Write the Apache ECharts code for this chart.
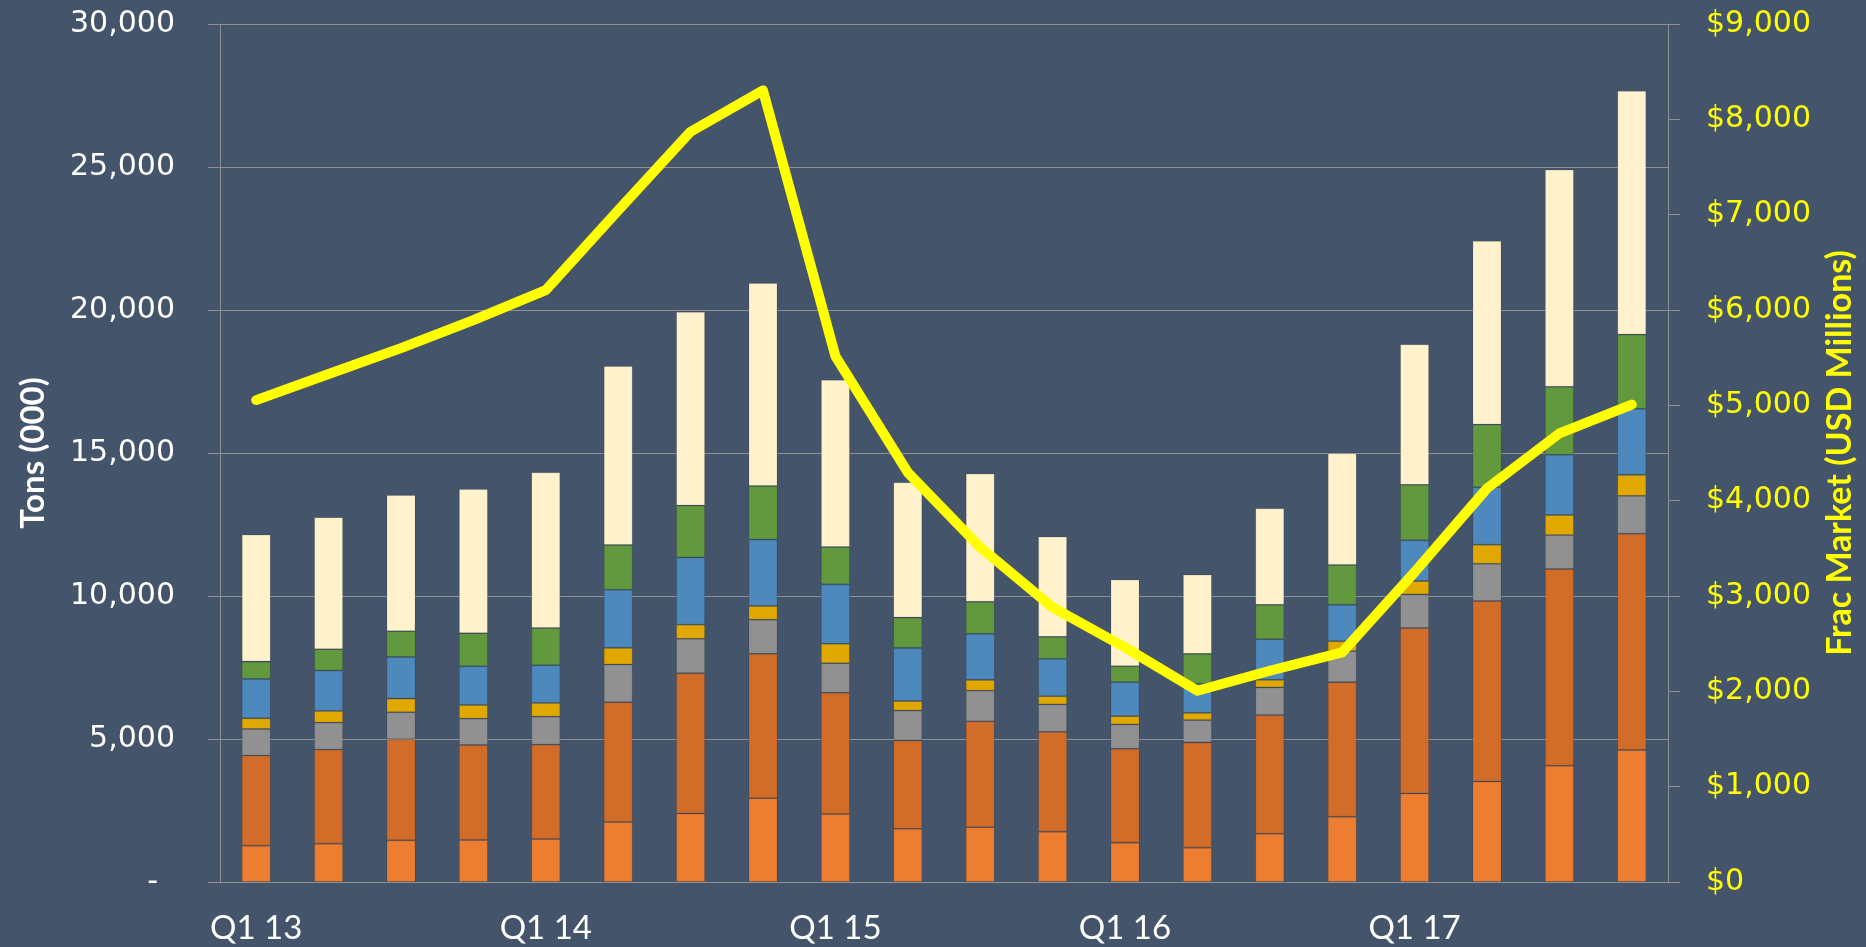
<!DOCTYPE html>
<html>
<head>
<meta charset="utf-8">
<title>Frac market</title>
<script src="https://cdn.jsdelivr.net/npm/echarts@6/dist/echarts.min.js"></script>
<style>
  html, body {
    margin: 0;
    padding: 0;
    background: #44546A;
  }
  #chart {
    width: 1866px;
    height: 947px;
  }
</style>
</head>
<body>
<div id="chart"></div>
<script>
// 季度
const quarters = [
  'Q1 13', 'Q2 13', 'Q3 13', 'Q4 13',
  'Q1 14', 'Q2 14', 'Q3 14', 'Q4 14',
  'Q1 15', 'Q2 15', 'Q3 15', 'Q4 15',
  'Q1 16', 'Q2 16', 'Q3 16', 'Q4 16',
  'Q1 17', 'Q2 17', 'Q3 17', 'Q4 17'
]

// 堆叠柱（自下而上），单位 Tons (000)
const seg1 = [1271, 1341, 1458, 1469, 1504, 2100, 2395, 2932, 2380, 1858, 1916, 1759, 1374, 1200, 1689, 2283, 3095, 3513, 4065, 4617]
const seg2 = [3148, 3288, 3532, 3323, 3300, 4186, 4906, 5051, 4238, 3091, 3701, 3494, 3285, 3680, 4146, 4705, 5789, 6308, 6876, 7562]
const seg3 = [933, 944, 945, 921, 979, 1318, 1204, 1190, 1031, 1045, 1074, 955, 850, 780, 967, 1083, 1171, 1304, 1188, 1322]
const seg4 = [373, 409, 478, 478, 478, 583, 494, 479, 682, 334, 377, 291, 291, 257, 268, 350, 468, 670, 703, 736]
const seg5 = [1376, 1410, 1458, 1353, 1318, 2031, 2351, 2322, 2076, 1858, 1611, 1304, 1188, 1013, 1421, 1269, 1422, 2007, 2108, 2309]
const seg6 = [606, 747, 897, 1154, 1306, 1565, 1814, 1872, 1306, 1059, 1118, 769, 559, 1048, 1199, 1398, 1941, 2192, 2376, 2593]
const seg7 = [4443, 4617, 4766, 5046, 5440, 6260, 6778, 7098, 5849, 4732, 4485, 3506, 3028, 2772, 3378, 3902, 4919, 6424, 7595, 8525]

// 折线：Frac Market (USD Millions)
const fracMarket = [5055, 5328, 5600, 5893, 6208, 7046, 7870, 8303, 5517, 4296, 3512, 2881, 2461, 2006, 2216, 2409, 3250, 4129, 4706, 5008]

const segColors = ['#ED7D31', '#D26D29', '#919191', '#E0A800', '#4E89BD', '#62993E', '#FFF2CC']
const segData = [seg1, seg2, seg3, seg4, seg5, seg6, seg7]

const gridColor = '#8e9196'
const numFont = '"DejaVu Sans", Verdana, sans-serif'
const textFont = 'Lato, "Open Sans", sans-serif'

const barSeries = segData.map((d, i) => ({
  name: 'Segment ' + (i + 1),
  type: 'bar',
  stack: 'tons',
  barWidth: 29,
  data: d,
  itemStyle: {
    color: segColors[i],
    borderColor: 'rgba(0,0,0,0.12)',
    borderWidth: 1
  }
}))

const chart = echarts.init(document.getElementById('chart'))

chart.setOption({
  backgroundColor: '#44546A',
  animation: false,
  grid: {
    left: 220,
    right: 198,
    top: 24,
    bottom: 65
  },
  xAxis: {
    type: 'category',
    data: quarters,
    boundaryGap: true,
    axisLine: { lineStyle: { color: gridColor, width: 1 } },
    axisTick: {
      interval: 3,
      length: 12,
      lineStyle: { color: gridColor }
    },
    axisLabel: {
      interval: 3,
      margin: 30,
      color: '#ffffff',
      fontFamily: textFont,
      fontSize: 33
    }
  },
  yAxis: [
    {
      type: 'value',
      min: 0,
      max: 30000,
      interval: 5000,
      name: 'Tons (000)',
      nameLocation: 'middle',
      nameGap: 170,
      nameRotate: 90,
      nameTextStyle: {
        color: '#ffffff',
        fontFamily: textFont,
        fontWeight: 'bold',
        fontSize: 33
      },
      axisLine: { show: true, lineStyle: { color: gridColor } },
      axisTick: { show: true, length: 12, lineStyle: { color: gridColor } },
      splitLine: { lineStyle: { color: gridColor, width: 1 } },
      axisLabel: {
        margin: 45,
        color: '#ffffff',
        fontFamily: numFont,
        fontSize: 30,
        formatter: v => v === 0 ? '{dash|-}' : v.toLocaleString('en-US'),
        rich: {
          dash: { color: '#ffffff', fontFamily: numFont, fontSize: 30, padding: [0, 17, 0, 0] }
        }
      }
    },
    {
      type: 'value',
      position: 'right',
      min: 0,
      max: 9000,
      interval: 1000,
      name: 'Frac Market (USD Millions)',
      nameLocation: 'middle',
      nameGap: 155,
      nameRotate: 90,
      nameTextStyle: {
        color: '#FFFF00',
        fontFamily: textFont,
        fontWeight: 'bold',
        fontSize: 34
      },
      axisLine: { show: true, lineStyle: { color: gridColor } },
      axisTick: { show: true, length: 12, lineStyle: { color: gridColor } },
      splitLine: { show: false },
      axisLabel: {
        margin: 38,
        color: '#FFFF00',
        fontFamily: numFont,
        fontSize: 30,
        formatter: v => '$' + v.toLocaleString('en-US')
      }
    }
  ],
  series: [
    ...barSeries,
    {
      name: 'Frac Market',
      type: 'line',
      yAxisIndex: 1,
      data: fracMarket,
      symbol: 'none',
      smooth: false,
      z: 10,
      lineStyle: {
        color: '#FFFF00',
        width: 10,
        cap: 'round',
        join: 'round'
      }
    }
  ]
})
</script>
</body>
</html>
